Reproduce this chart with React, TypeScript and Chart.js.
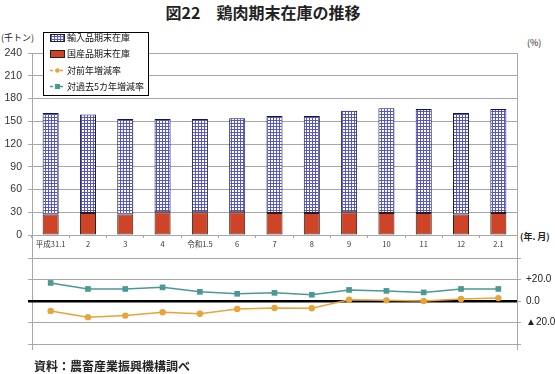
import React, { useEffect, useRef } from 'react';
import { Chart, registerables } from 'chart.js';

Chart.register(...registerables);

const FONT = '"Noto Sans CJK JP", "Noto Sans", sans-serif';
const NUM_FONT = '"Liberation Sans", "Noto Sans CJK JP", sans-serif';

const categories = ['平成31.1', '2', '3', '4', '令和1.5', '6', '7', '8', '9', '10', '11', '12', '2.1'];
const importedStock = [134, 130, 126, 123, 123, 124, 128, 128, 134, 138, 137, 134, 137];
const domesticStock = [27, 29, 27, 30, 30, 30, 29, 29, 30, 29, 29, 27, 29];
const yoyChange = [-9.2, -15.0, -13.6, -10.4, -11.9, -7.4, -6.5, -6.8, 1.1, 0.6, 0.0, 1.8, 2.7];
const fiveYearChange = [16.8, 11.2, 11.2, 12.7, 8.5, 6.7, 7.6, 5.8, 10.3, 9.4, 8.0, 11.2, 11.2];
const seriesNames = ['輸入品期末在庫', '国産品期末在庫', '対前年増減率', '対過去5カ年増減率'];
const stockAxis = { min: 0, max: 240, step: 30 };
const rateAxis = { min: -40, max: 40, step: 20 };
const rateTickLabels: Record<string, string> = { '20': '+20.0', '0': '0.0', '-20': '▲20.0' };

const COLORS = {
  domestic: '#cf4327',
  patternLine: '#5656cc',
  yoy: '#e8a33a',
  five: '#4b9995',
  grid: '#a8a8a8',
  text: '#333333',
};

function makePattern(): CanvasPattern | string {
  const c = document.createElement('canvas');
  c.width = 3;
  c.height = 3;
  const g = c.getContext('2d');
  if (!g) return '#9999dd';
  g.fillStyle = '#ffffff';
  g.fillRect(0, 0, 3, 3);
  g.fillStyle = COLORS.patternLine;
  g.fillRect(0, 0, 3, 1);
  g.fillRect(0, 0, 1, 3);
  const p = g.createPattern(c, 'repeat');
  return p || '#9999dd';
}

export default function App() {
  const topRef = useRef<HTMLCanvasElement | null>(null);
  const botRef = useRef<HTMLCanvasElement | null>(null);

  useEffect(() => {
    if (!topRef.current || !botRef.current) return;
    const pattern = makePattern();

    const legendPlugin = {
      id: 'boxLegend',
      afterDraw(chart: any) {
        const ctx = chart.ctx as CanvasRenderingContext2D;
        ctx.save();
        ctx.fillStyle = '#ffffff';
        ctx.fillRect(43.5, 2.5, 105, 63);
        ctx.strokeStyle = '#000000';
        ctx.lineWidth = 1;
        ctx.strokeRect(43.5, 2.5, 105, 63);
        const rows = [8, 24, 40.5, 56.5];
        const sx = 50;
        const sw = 15;
        ctx.fillStyle = pattern as any;
        ctx.fillRect(sx, rows[0] - 4, sw, 8);
        ctx.strokeStyle = '#222';
        ctx.strokeRect(sx + 0.5, rows[0] - 3.5, sw - 1, 7);
        ctx.fillStyle = COLORS.domestic;
        ctx.fillRect(sx, rows[1] - 4, sw, 8);
        ctx.strokeRect(sx + 0.5, rows[1] - 3.5, sw - 1, 7);
        ctx.strokeStyle = COLORS.yoy;
        ctx.lineWidth = 1.5;
        ctx.setLineDash([3, 2]);
        ctx.beginPath();
        ctx.moveTo(sx, rows[2]);
        ctx.lineTo(sx + sw, rows[2]);
        ctx.stroke();
        ctx.setLineDash([]);
        ctx.fillStyle = COLORS.yoy;
        ctx.beginPath();
        ctx.arc(sx + sw / 2, rows[2], 2.2, 0, Math.PI * 2);
        ctx.fill();
        ctx.strokeStyle = COLORS.five;
        ctx.setLineDash([3, 2]);
        ctx.beginPath();
        ctx.moveTo(sx, rows[3]);
        ctx.lineTo(sx + sw, rows[3]);
        ctx.stroke();
        ctx.setLineDash([]);
        ctx.fillStyle = COLORS.five;
        ctx.fillRect(sx + sw / 2 - 2.5, rows[3] - 2.5, 5, 5);
        ctx.fillStyle = '#111';
        ctx.font = `9px ${FONT}`;
        ctx.textBaseline = 'middle';
        ctx.textAlign = 'left';
        seriesNames.forEach((n, i) => ctx.fillText(n, 67, rows[i]));
        ctx.restore();
      },
    };

    const topChart = new Chart(topRef.current, {
      type: 'bar',
      data: {
        labels: categories,
        datasets: [
          {
            label: seriesNames[1],
            data: domesticStock,
            backgroundColor: COLORS.domestic,
            borderColor: '#2a1a1a',
            borderWidth: 1,
            borderSkipped: false,
            stack: 's',
          },
          {
            label: seriesNames[0],
            data: importedStock,
            backgroundColor: pattern as any,
            borderColor: '#1a1a2a',
            borderWidth: 1,
            borderSkipped: false,
            stack: 's',
          },
        ],
      },
      options: {
        responsive: false,
        animation: false,
        layout: { padding: { left: 0, right: 38, top: 23, bottom: 0 } },
        plugins: { legend: { display: false }, tooltip: { enabled: false } },
        datasets: { bar: { categoryPercentage: 1, barPercentage: 0.43 } },
        scales: {
          x: {
            stacked: true,
            grid: { display: true, drawOnChartArea: false, tickLength: 3, color: COLORS.grid },
            border: { display: false },
            ticks: { autoSkip: false, maxRotation: 0, padding: 2, font: { size: 7.5, family: FONT }, color: COLORS.text },
            afterFit: (s: any) => { s.height = 20; },
          },
          y: {
            stacked: true,
            min: stockAxis.min,
            max: stockAxis.max,
            ticks: { stepSize: stockAxis.step, padding: 6, font: { size: 10.5, family: NUM_FONT }, color: COLORS.text },
            grid: { color: COLORS.grid, tickLength: 4 },
            border: { display: false },
            afterFit: (s: any) => { s.width = 32; },
          },
        },
      },
      plugins: [legendPlugin],
    } as any);

    const botChart = new Chart(botRef.current, {
      type: 'line',
      data: {
        labels: categories,
        datasets: [
          {
            label: seriesNames[2],
            data: yoyChange,
            borderColor: COLORS.yoy,
            backgroundColor: COLORS.yoy,
            borderWidth: 1.5,
            pointStyle: 'circle',
            pointRadius: 3.2,
            pointBorderWidth: 0,
            yAxisID: 'y',
          },
          {
            label: seriesNames[3],
            data: fiveYearChange,
            borderColor: COLORS.five,
            backgroundColor: COLORS.five,
            borderWidth: 1.5,
            pointStyle: 'rect',
            pointRadius: 4,
            pointBorderWidth: 0,
            yAxisID: 'y',
          },
        ],
      },
      options: {
        responsive: false,
        animation: false,
        layout: { padding: { left: 0, right: 0, top: 18, bottom: 6 } },
        plugins: { legend: { display: false }, tooltip: { enabled: false } },
        scales: {
          x: { display: false, offset: true },
          y: {
            position: 'left',
            min: rateAxis.min,
            max: rateAxis.max,
            ticks: { stepSize: rateAxis.step, callback: () => '', padding: 0 },
            grid: {
              color: (c: any) => (c.tick && c.tick.value === 0 ? '#000' : COLORS.grid),
              lineWidth: (c: any) => (c.tick && c.tick.value === 0 ? 2.5 : 1),
              tickLength: 4,
            },
            border: { display: false },
            afterFit: (s: any) => { s.width = 32; },
          },
          y2: {
            position: 'right',
            min: rateAxis.min,
            max: rateAxis.max,
            ticks: {
              stepSize: rateAxis.step,
              callback: (v: any) => rateTickLabels[String(v)] ?? '',
              padding: 5,
              font: { size: 10, family: NUM_FONT },
              color: '#222',
            },
            grid: { drawOnChartArea: false, tickLength: 4, color: COLORS.grid },
            border: { display: false },
            afterFit: (s: any) => { s.width = 38; },
          },
        },
      },
    } as any);

    return () => {
      topChart.destroy();
      botChart.destroy();
    };
  }, []);

  const abs = (o: React.CSSProperties): React.CSSProperties => ({ position: 'absolute', whiteSpace: 'nowrap', ...o });

  return (
    <div style={abs({ left: 0, top: 0, width: 555, height: 374, background: '#fff', fontFamily: FONT, color: '#222', overflow: 'hidden' })}>
      <div style={abs({ left: 0, top: 1, width: 526, textAlign: 'center', fontSize: 16, fontWeight: 'bold', lineHeight: '22px', color: '#222' })}>
        図22　鶏肉期末在庫の推移
      </div>
      <div style={abs({ left: 1, top: 31, fontSize: 9, lineHeight: '14px' })}>(千トン)</div>
      <div style={abs({ left: 527, top: 36, fontSize: 9, lineHeight: '14px' })}>(%)</div>
      <div style={abs({ left: 520, top: 230, fontSize: 9, lineHeight: '14px', fontWeight: 'bold' })}>(年. 月)</div>
      <div style={abs({ left: 32, top: 53, width: 1, height: 297, background: COLORS.grid })} />
      <div style={abs({ left: 517, top: 53, width: 1, height: 297, background: COLORS.grid })} />
      <canvas ref={topRef} width={555} height={225} style={abs({ left: 0, top: 30, width: 555, height: 225 })} />
      <canvas ref={botRef} width={555} height={115} style={abs({ left: 0, top: 240, width: 555, height: 115 })} />
      <div style={abs({ left: 34, top: 358, fontSize: 12, fontWeight: 'bold', lineHeight: '16px' })}>資料：農畜産業振興機構調べ</div>
    </div>
  );
}
